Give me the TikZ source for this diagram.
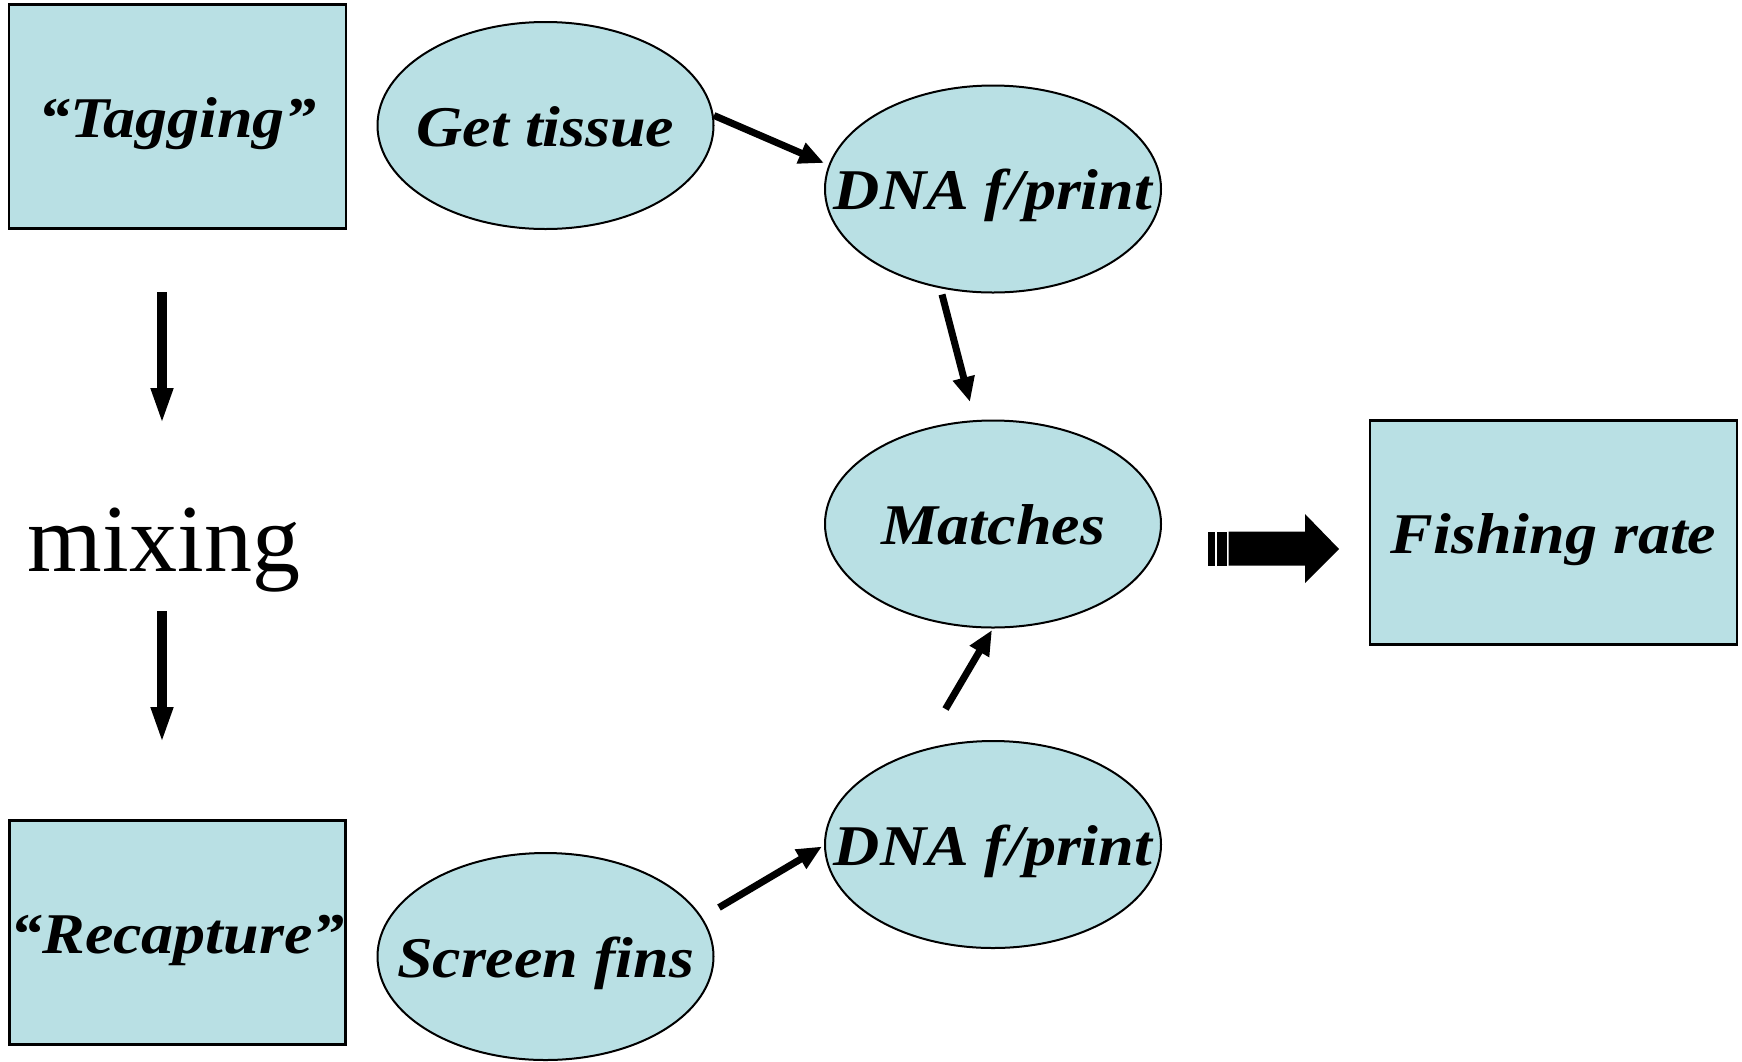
\documentclass[tikz,border=0pt]{standalone}
\usepackage{fontspec}
\usepackage{graphicx}
\setmainfont{Liberation Serif}
\usetikzlibrary{arrows.meta,shapes.geometric}
\definecolor{boxfill}{RGB}{185,224,228}
\newcommand{\squash}[1]{\scalebox{1}[0.9]{#1}}
\begin{document}
\begin{tikzpicture}[x=1pt,y=-1pt,
  lbl/.style={font=\fontsize{64}{72}\selectfont\bfseries\itshape, text height=41pt, text depth=0pt, inner sep=0pt},
  boxnode/.style={lbl, draw=black, line width=2.2pt, fill=boxfill, minimum height=224pt},
  ell/.style={ellipse, draw=black, line width=2pt, fill=boxfill, inner sep=0pt, minimum width=336pt, minimum height=207pt},
  arr/.style={line width=7pt, -{Triangle[length=25pt,width=21pt]}},
  varr/.style={line width=10pt, -{Triangle[length=37pt,width=20pt]}}]
\useasboundingbox (0,0) rectangle (1742,1061);
% boxes
\node[boxnode, minimum width=337pt] (tag) at (177.5,116.5) {\squash{“Tagging”}};
\node[boxnode, minimum width=336pt] (rec) at (177.5,932.5) {\squash{“Recapture”}};
\node[boxnode, minimum width=367pt] (fish) at (1553.5,532.5) {\squash{Fishing rate}};
% ellipses
\node[ell] (tis) at (545.5,125.5) {};
\node[lbl] (tisT) at (tis.center) {\squash{Get tissue}};
\node[ell] (dnaA) at (993,189) {};
\node[lbl] (dnaAT) at (dnaA.center) {\squash{DNA f/print}};
\node[ell] (mat) at (993,524) {};
\node[lbl] (matT) at (mat.center) {\squash{Matches}};
\node[ell] (dnaB) at (993,844.5) {};
\node[lbl] (dnaBT) at (dnaB.center) {\squash{DNA f/print}};
\node[ell] (fin) at (545.5,956.5) {};
\node[lbl] (finT) at (fin.center) {\squash{Screen fins}};
% mixing
\node[font=\fontsize{96}{110}\selectfont, anchor=base, inner sep=0pt] (mix) at (164,571) {mixing};
% arrow end points
\coordinate (a1s) at (162,292);
\coordinate (a1e) at (162,425);
\coordinate (a2s) at (162,611);
\coordinate (a2e) at (162,744);
\coordinate (b1s) at (714,115.5);
\coordinate (b1e) at (824,163);
\coordinate (b2s) at (942,294.5);
\coordinate (b2e) at (970,402);
\coordinate (b3s) at (945.5,709);
\coordinate (b3e) at (992,630);
\coordinate (b4s) at (719,907.5);
\coordinate (b4e) at (822,846.5);
\draw[varr] (a1s) -- (a1e);
\draw[varr] (a2s) -- (a2e);
\draw[arr] (b1s) -- (b1e);
\draw[arr] (b2s) -- (b2e);
\draw[arr] (b3s) -- (b3e);
\draw[arr] (b4s) -- (b4e);
% block arrow
\fill (1208.3,531.7) rectangle (1215,565.7);
\fill (1216.7,531.7) rectangle (1226.7,565.7);
\fill (1228.5,531.7) -- (1305,531.7) -- (1305,514) -- (1339,549) -- (1305,583) -- (1305,565.7) -- (1228.5,565.7) -- cycle;
\end{tikzpicture}
\end{document}
